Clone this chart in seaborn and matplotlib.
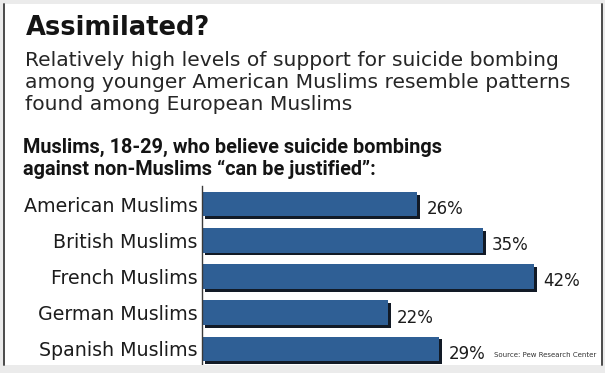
import numpy as np
import pandas as pd
import matplotlib
matplotlib.use("Agg")
import matplotlib.pyplot as plt
import matplotlib.patheffects as pe
from matplotlib.patches import Rectangle
import seaborn as sns

# ---- data ----
categories = ["American Muslims", "British Muslims", "French Muslims",
              "German Muslims", "Spanish Muslims"]
values = [26, 35, 42, 22, 29]
value_labels = ["26%", "35%", "42%", "22%", "29%"]

title = "Assimilated?"
subtitle = ["Relatively high levels of support for suicide bombing",
            "among younger American Muslims resemble patterns",
            "found among European Muslims"]
header = ["Muslims, 18-29, who believe suicide bombings",
          "against non-Muslims \u201ccan be justified\u201d:"]
source = "Source: Pew Research Center"

# ---- style ----
sns.set_theme(style="white")
plt.rcParams["font.family"] = ["DejaVu Sans"]

W, H = 605, 373
fig = plt.figure(figsize=(W / 100, H / 100), dpi=100)
fig.patch.set_facecolor("#ebebeb")

def fx(px):
    return px / W

def fy(py):
    return 1 - py / H

# white panel with dark side rules
fig.patches.append(Rectangle((fx(4), fy(365)), fx(602) - fx(4), fy(4) - fy(365),
                             transform=fig.transFigure, facecolor="white",
                             edgecolor="none", zorder=-1))
for xp in (3.5, 601.5):
    fig.add_artist(plt.Line2D([fx(xp), fx(xp)], [fy(4), fy(365)],
                              transform=fig.transFigure, color="#4a4a4a", lw=1.4, zorder=6))

BAR = "#2f5f95"
TXT = "#1c1c1c"

ax = fig.add_axes([fx(202), fy(367), fx(600) - fx(202), fy(186) - fy(367)])
ax.set_facecolor("none")
df = pd.DataFrame({"country": categories, "pct": values})
sns.barplot(data=df, y="country", x="pct", orient="h", color=BAR, saturation=1,
            width=0.68, ax=ax, edgecolor="none", linewidth=0)

# bars in the original start a little before the zero point
C = 3.5

def fwd(v):
    v = np.asarray(v, dtype=float)
    return np.where(v > 0, v + C, v)

def inv(u):
    u = np.asarray(u, dtype=float)
    return np.where(u > C, u - C, np.minimum(u, 0))

ax.set_xscale("function", functions=(fwd, inv))
ax.set_xlim(0, 51)
ax.set_ylim(4.5, -0.5)

for p in ax.patches:
    p.set_path_effects([pe.SimplePatchShadow(offset=(2.0, -2.0), shadow_rgbFace="#121a26",
                                             alpha=1.0),
                        pe.Normal()])

for i, (v, lab) in enumerate(zip(values, value_labels)):
    ax.annotate(lab, xy=(v, i), xytext=(6.5, -3.5), textcoords="offset points",
                ha="left", va="center", fontsize=12, color=TXT)

ax.set_xlabel("")
ax.set_ylabel("")
ax.set_xticks([])
ax.tick_params(axis="y", length=0, pad=3, labelsize=13.7, labelcolor=TXT)
for s in ("top", "right", "bottom"):
    ax.spines[s].set_visible(False)
ax.spines["left"].set_color("#3a3a3a")
ax.spines["left"].set_linewidth(1.0)

# bottom gray band
fig.patches.append(Rectangle((0, 0), 1, fy(365), transform=fig.transFigure,
                             facecolor="#ebebeb", edgecolor="none", zorder=5))

# ---- texts ----
fig.text(fx(26), fy(35), title, fontsize=18.5, fontweight="bold", color="#141414",
         va="baseline", ha="left")
for k, line in enumerate(subtitle):
    fig.text(fx(25), fy(66 + 22 * k), line, fontsize=14.6, color="#262626",
             va="baseline", ha="left")
for k, line in enumerate(header):
    fig.text(fx(23), fy(153 + 22 * k), line, fontsize=14.3, fontweight="bold",
             color="#141414", va="baseline", ha="left", family=["Roboto", "DejaVu Sans"])
fig.text(fx(494), fy(357), source, fontsize=5, color="#333333",
         va="baseline", ha="left", zorder=7)

fig.savefig("out.png", dpi=100, facecolor=fig.get_facecolor())
